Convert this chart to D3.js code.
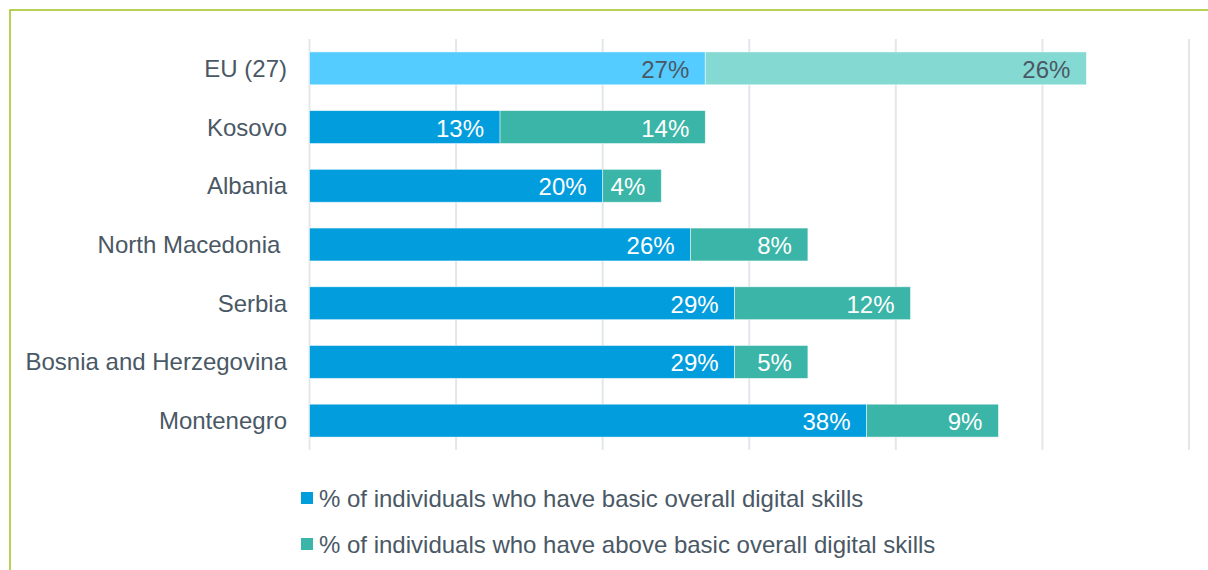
<!DOCTYPE html>
<html>
<head>
<meta charset="utf-8">
<script src="https://cdn.jsdelivr.net/npm/d3@7"></script>
<style>
  html, body { margin: 0; padding: 0; background: #ffffff; }
  svg { display: block; }
  text { font-family: "Liberation Sans", Arial, sans-serif; }
</style>
</head>
<body>
<div id="chart"></div>
<script>
// ---- data ----
const categories = ["EU (27)", "Kosovo", "Albania", "North Macedonia ", "Serbia", "Bosnia and Herzegovina", "Montenegro"];
const basicValues = [27, 13, 20, 26, 29, 29, 38];
const aboveBasicValues = [26, 14, 4, 8, 12, 5, 9];
const seriesNames = [
  "% of individuals who have basic overall digital skills",
  "% of individuals who have above basic overall digital skills"
];
const xTicks = [0, 10, 20, 30, 40, 50, 60];

// ---- layout ----
const W = 1208, H = 570;
const x0 = 309.5, x1 = 1189, yTop = 39, yBot = 450;
const textColor = "#4a5865";
const colBasic = "#029ddc", colAbove = "#3ab5a7";
const colBasicEU = "#55ccff", colAboveEU = "#84d9d2";
const fs = 24;

const svg = d3.select("#chart").append("svg").attr("width", W).attr("height", H);

// frame
svg.append("path")
  .attr("d", `M10,${H + 5} L10,10 L${W + 5},10`)
  .attr("fill", "none").attr("stroke", "#9fc41f").attr("stroke-width", 1.5);

const x = d3.scaleLinear().domain([0, 60]).range([x0, x1]);
const y = d3.scaleBand().domain(categories).range([yTop, yBot]).paddingInner(0.44).paddingOuter(0.22);

// gridlines
svg.append("g").selectAll("line").data(xTicks).join("line")
  .attr("x1", d => x(d)).attr("x2", d => x(d))
  .attr("y1", yTop).attr("y2", yBot)
  .attr("stroke", "#e3e7ea").attr("stroke-width", 2);

// category labels
svg.append("g").selectAll("text").data(categories).join("text")
  .attr("x", 287).attr("y", d => y(d) + y.bandwidth() / 2)
  .attr("text-anchor", "end").attr("dominant-baseline", "central")
  .attr("font-size", fs).attr("fill", textColor)
  .style("white-space", "pre")
  .text(d => d);

const rows = categories.map((c, i) => ({
  cat: c, basic: basicValues[i], above: aboveBasicValues[i], eu: i === 0
}));

const barsG = svg.append("g");
rows.forEach(r => {
  const segs = [
    { start: 0, v: r.basic, fill: r.eu ? colBasicEU : colBasic },
    { start: r.basic, v: r.above, fill: r.eu ? colAboveEU : colAbove }
  ];
  segs.forEach(s => {
    barsG.append("rect")
      .attr("x", x(s.start)).attr("y", y(r.cat))
      .attr("width", x(s.start + s.v) - x(s.start)).attr("height", y.bandwidth())
      .attr("fill", s.fill).attr("stroke", "#ffffff").attr("stroke-opacity", 0.6).attr("stroke-width", 0.8);
    barsG.append("text")
      .attr("x", x(s.start + s.v) - 16).attr("y", y(r.cat) + y.bandwidth() / 2 + 1)
      .attr("text-anchor", "end").attr("dominant-baseline", "central")
      .attr("font-size", fs).attr("fill", r.eu ? textColor : "#ffffff")
      .text(s.v + "%");
  });
});

// legend
const legend = svg.append("g");
const legendColors = [colBasic, colAbove];
seriesNames.forEach((name, i) => {
  const cy = 498 + i * 46;
  legend.append("rect").attr("x", 301).attr("y", cy - 6).attr("width", 12).attr("height", 12)
    .attr("fill", legendColors[i]);
  legend.append("text").attr("x", 319).attr("y", cy)
    .attr("dominant-baseline", "central").attr("font-size", fs).attr("fill", textColor)
    .text(name);
});
</script>
</body>
</html>
